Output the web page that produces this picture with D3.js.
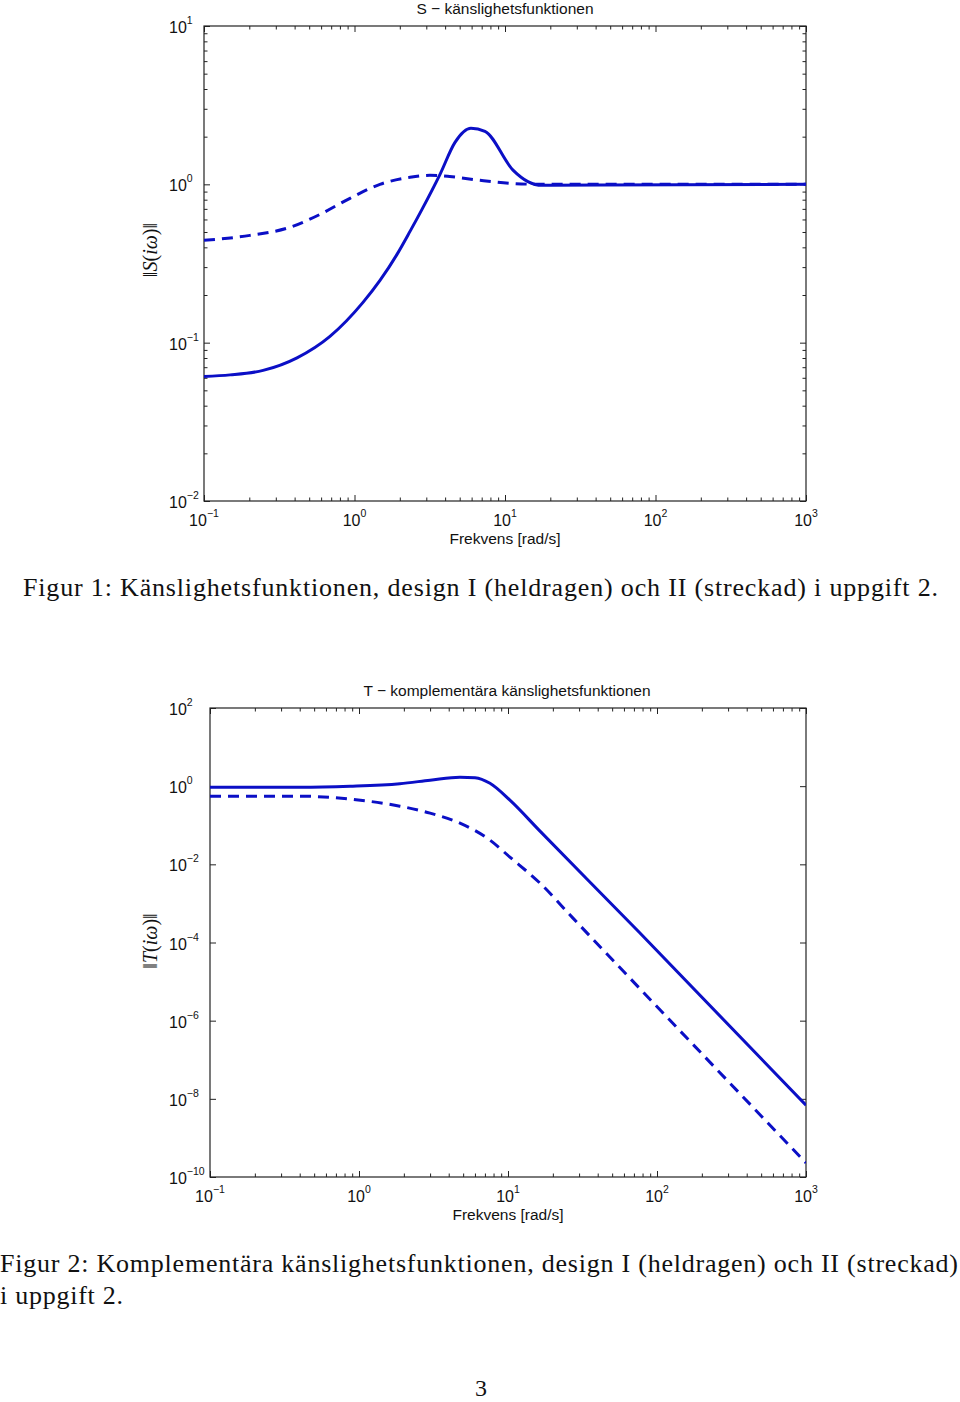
<!DOCTYPE html>
<html><head><meta charset="utf-8">
<script src="https://cdn.jsdelivr.net/npm/d3@7"></script>
<style>body{margin:0;background:#fff}</style>
</head><body>
<svg id="c" width="960" height="1402" xmlns="http://www.w3.org/2000/svg"></svg>
<script>
// ---- data ----
const sFreqI  = [0.1, 0.149, 0.247, 0.415, 0.687, 1.139, 1.477, 1.916, 2.338, 2.809, 3.70, 4.654, 5.94, 7.36, 11.3, 14.2, 17.6, 42.8, 1000];
const sMagI   = [0.0612, 0.0626, 0.0668, 0.0802, 0.1096, 0.1797, 0.2474, 0.3612, 0.5047, 0.6952, 1.157, 1.842, 2.26, 2.16, 1.23, 1.04, 0.985, 0.99, 1.0];
const sFreqII = [0.1, 0.202, 0.372, 0.590, 0.933, 1.476, 2.34, 3.17, 4.29, 6.83, 10.8, 17.1, 1000];
const sMagII  = [0.443, 0.476, 0.535, 0.646, 0.816, 1.0, 1.107, 1.14, 1.12, 1.06, 1.015, 1.0, 1.0];

const tFreqI  = [0.1, 0.402, 0.871, 1.88, 3.0, 4.76, 6.01, 7.57, 10.3, 16.4, 75.7, 1000];
const tMagI   = [0.94, 0.94, 1.0, 1.16, 1.42, 1.70, 1.65, 1.19, 0.438, 0.0706, 1.85e-4, 6.9e-9];
const tFreqII = [0.1, 0.402, 0.871, 1.88, 3.0, 4.76, 7.57, 10.3, 16.4, 27.3, 48.4, 1000];
const tMagII  = [0.555, 0.555, 0.465, 0.308, 0.204, 0.113, 0.0416, 0.0153, 3.3e-3, 4.2e-4, 4.2e-5, 2.3e-10];

const xTickExp  = [-1, 0, 1, 2, 3];
const sYTickExp = [-2, -1, 0, 1];
const tYTickExp = [2, 0, -2, -4, -6, -8, -10];

const sTitle = "S \u2212 känslighetsfunktionen";
const tTitle = "T \u2212 komplementära känslighetsfunktionen";
const xLabel = "Frekvens [rad/s]";
const caption1 = "Figur 1: Känslighetsfunktionen, design I (heldragen) och II (streckad) i uppgift 2.";
const caption2a = "Figur 2: Komplementära känslighetsfunktionen, design I (heldragen) och II (streckad)";
const caption2b = "i uppgift 2.";
const pageNo = "3";

// ---- drawing ----
const svg = d3.select("#c");
const BLUE = "#0b0fc6";
const AX = "#222";
const SANS = "'Liberation Sans', Arial, Helvetica, sans-serif";
const SERIF = "'Liberation Serif', 'Times New Roman', serif";

function expStr(e){ return e < 0 ? "\u2212" + (-e) : String(e); }

function minorTicks(lo, hi){
  const out = [];
  for (let e = lo; e < hi; e++) for (let m = 2; m <= 9; m++) out.push(m * Math.pow(10, e));
  return out;
}

function panel(cfg){
  const x = d3.scaleLog().domain([0.1, 1000]).range([cfg.x0, cfg.x1]);
  const y = d3.scaleLog().domain(cfg.ydom).range([cfg.y1, cfg.y0]);
  const g = svg.append("g");

  const majX = xTickExp.map(e => Math.pow(10, e));
  const minX = minorTicks(-1, 3);
  const majY = cfg.yExp.map(e => Math.pow(10, e));
  const minY = cfg.yMinor ? minorTicks(Math.log10(cfg.ydom[0]), Math.log10(cfg.ydom[1])) : [];

  const style = sel => { sel.select(".domain").remove(); sel.selectAll("line").attr("stroke", AX).attr("stroke-width", 1); };

  g.append("g").attr("transform", `translate(0,${cfg.y1})`).call(d3.axisBottom(x).tickValues(majX).tickSize(-6).tickFormat("")).call(style);
  g.append("g").attr("transform", `translate(0,${cfg.y1})`).call(d3.axisBottom(x).tickValues(minX).tickSize(-3.5).tickFormat("")).call(style);
  g.append("g").attr("transform", `translate(0,${cfg.y0})`).call(d3.axisTop(x).tickValues(majX).tickSize(-6).tickFormat("")).call(style);
  g.append("g").attr("transform", `translate(0,${cfg.y0})`).call(d3.axisTop(x).tickValues(minX).tickSize(-3.5).tickFormat("")).call(style);
  g.append("g").attr("transform", `translate(${cfg.x0},0)`).call(d3.axisLeft(y).tickValues(majY).tickSize(-6).tickFormat("")).call(style);
  g.append("g").attr("transform", `translate(${cfg.x1},0)`).call(d3.axisRight(y).tickValues(majY).tickSize(-6).tickFormat("")).call(style);
  if (minY.length){
    g.append("g").attr("transform", `translate(${cfg.x0},0)`).call(d3.axisLeft(y).tickValues(minY).tickSize(-3.5).tickFormat("")).call(style);
    g.append("g").attr("transform", `translate(${cfg.x1},0)`).call(d3.axisRight(y).tickValues(minY).tickSize(-3.5).tickFormat("")).call(style);
  }

  g.append("rect").attr("x", cfg.x0).attr("y", cfg.y0)
    .attr("width", cfg.x1 - cfg.x0).attr("height", cfg.y1 - cfg.y0)
    .attr("fill", "none").attr("stroke", AX).attr("stroke-width", 1.2);

  xTickExp.forEach(e => {
    const t = g.append("text").attr("x", x(Math.pow(10, e))).attr("y", cfg.y1 + 25)
      .attr("text-anchor", "middle").attr("font-family", SANS).attr("font-size", 16).attr("fill", "#111");
    t.append("tspan").text("10");
    t.append("tspan").attr("dy", -9).attr("font-size", 10.5).text(expStr(e));
  });
  cfg.yExp.forEach(e => {
    const t = g.append("text").attr("x", 169).attr("y", y(Math.pow(10, e)) + 7)
      .attr("text-anchor", "start").attr("font-family", SANS).attr("font-size", 16).attr("fill", "#111");
    t.append("tspan").text("10");
    t.append("tspan").attr("dy", -9).attr("font-size", 10.5).text(expStr(e));
  });

  g.append("text").attr("x", cfg.titleX).attr("y", cfg.y0 - 12).attr("text-anchor", "middle")
    .attr("font-family", SANS).attr("font-size", 15.5).attr("fill", "#111").text(cfg.title);
  g.append("text").attr("x", (cfg.x0 + cfg.x1) / 2).attr("y", cfg.y1 + 43).attr("text-anchor", "middle")
    .attr("font-family", SANS).attr("font-size", 15.5).attr("fill", "#111").text(xLabel);

  const yl = g.append("text").attr("transform", `translate(157,${cfg.yLabelY}) rotate(-90)`)
    .attr("text-anchor", "middle").attr("font-family", SERIF).attr("font-size", 20).attr("fill", "#111");
  yl.append("tspan").text("\u2016");
  yl.append("tspan").attr("font-style", "italic").text(cfg.sym);
  yl.append("tspan").text("(");
  yl.append("tspan").attr("font-style", "italic").text("i\u03C9");
  yl.append("tspan").text(")\u2016");

  const clipId = "clip" + cfg.id;
  svg.append("clipPath").attr("id", clipId).append("rect")
    .attr("x", cfg.x0).attr("y", cfg.y0).attr("width", cfg.x1 - cfg.x0).attr("height", cfg.y1 - cfg.y0);
  const line = d3.line().x(d => x(d[0])).y(d => y(d[1])).curve(d3.curveMonotoneX);
  const cg = g.append("g").attr("clip-path", `url(#${clipId})`);
  cg.append("path").datum(d3.zip(cfg.fII, cfg.mII)).attr("d", line)
    .attr("fill", "none").attr("stroke", BLUE).attr("stroke-width", 3).attr("stroke-dasharray", "11,7");
  cg.append("path").datum(d3.zip(cfg.fI, cfg.mI)).attr("d", line)
    .attr("fill", "none").attr("stroke", BLUE).attr("stroke-width", 3).attr("stroke-linejoin", "round");
}

panel({id: "S", x0: 204, x1: 806, y0: 26, y1: 501, ydom: [1e-2, 1e1], yExp: sYTickExp, yMinor: true,
  title: sTitle, titleX: 505, sym: "S", yLabelY: 250,
  fI: sFreqI, mI: sMagI, fII: sFreqII, mII: sMagII});
panel({id: "T", x0: 210, x1: 806, y0: 708, y1: 1177, ydom: [1e-10, 1e2], yExp: tYTickExp, yMinor: false,
  title: tTitle, titleX: 507, sym: "T", yLabelY: 941,
  fI: tFreqI, mI: tMagI, fII: tFreqII, mII: tMagII});

function cap(txt, x, y, len){
  const t = svg.append("text").attr("x", x).attr("y", y).attr("font-family", SERIF)
    .attr("font-size", 26).attr("fill", "#111").text(txt);
  if (len) t.attr("textLength", len).attr("lengthAdjust", "spacing");
  return t;
}
cap(caption1, 23, 596, 915);
cap(caption2a, 0, 1272, 958);
cap(caption2b, 0, 1304, 123);
svg.append("text").attr("x", 481).attr("y", 1396).attr("text-anchor", "middle")
  .attr("font-family", SERIF).attr("font-size", 24).attr("fill", "#111").text(pageNo);
</script>
</body></html>
